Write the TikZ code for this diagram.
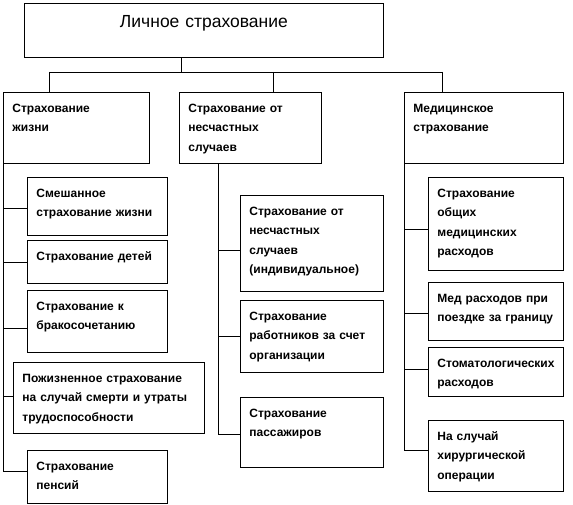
\documentclass[tikz,border=0pt]{standalone}
\usepackage{fontspec}
\setmainfont{Liberation Sans}
\usetikzlibrary{positioning}
\tikzset{
  head/.style={draw,line width=0.8pt,anchor=north west,align=center,inner xsep=9pt,inner ysep=11pt,text width=341pt,text height=13pt,text depth=19pt,font=\fontsize{17.5}{20}\selectfont},
  box/.style={draw,line width=0.8pt,anchor=north west,align=left,inner xsep=9pt,inner ysep=11pt,text height=9pt,font=\fontsize{12}{19.5}\selectfont\bfseries},
  line/.style={draw=black,line width=0.8pt},
}
\begin{document}
\begin{tikzpicture}[x=1pt,y=-1pt]
  \useasboundingbox (0,0) rectangle (573,505);
  \node[head] (top) at (24,3) {Личное страхование};
  \node[box,text width=128pt,text depth=40pt] (life) at (3,92) {Страхование\\жизни};
  \node[box,text width=124pt,text depth=40pt] (acc) at (179,92) {Страхование от\\несчастных\\случаев};
  \node[box,text width=141pt,text depth=40pt] (med) at (404,92) {Медицинское\\страхование};

  \node[box,text width=122pt,text depth=27pt] (mix) at (27,177) {Смешанное\\страхование жизни};
  \node[box,text width=122pt,text depth=12pt] (kids) at (27,240) {Страхование детей};
  \node[box,text width=122pt,text depth=31pt] (wed) at (27,290) {Страхование к\\бракосочетанию};
  \node[box,text width=173pt,text depth=40pt] (whole) at (13,362) {Пожизненное страхование\\на случай смерти и утраты\\трудоспособности};
  \node[box,text width=122pt,text depth=22pt] (pens) at (27,450) {Страхование\\пенсий};

  \node[box,text width=125pt,text depth=65pt] (acc1) at (240,195) {Страхование от\\несчастных\\случаев\\(индивидуальное)};
  \node[box,text width=125pt,text depth=41pt] (acc2) at (240,300) {Страхование\\работников за счет\\организации};
  \node[box,text width=125pt,text depth=39pt] (acc3) at (240,397) {Страхование\\пассажиров};

  \node[box,text width=117pt,text depth=62pt] (med1) at (428,177) {Страхование\\общих\\медицинских\\расходов};
  \node[box,text width=117pt,text depth=27pt] (med2) at (428,282) {Мед расходов при\\поездке за границу};
  \node[box,text width=117pt,text depth=18pt] (med3) at (428,347) {Стоматологических\\расходов};
  \node[box,text width=117pt,text depth=40pt] (med4) at (428,420) {На случай\\хирургической\\операции};

  \coordinate (bus) at (181,72);
  \coordinate (lifeup) at (49,72);
  \coordinate (accup) at (273,72);
  \coordinate (medup) at (442,72);
  \coordinate (accx) at ([xshift=39pt]acc.south west);
  \draw[line] (top.south -| bus) -- (bus);
  \draw[line] (lifeup) -- (medup);
  \foreach \n/\u in {life/lifeup,acc/accup,med/medup} \draw[line] (\u) -- (\u |- \n.north);

  \draw[line] (life.south west) |- ([yshift=6pt]pens.west);
  \foreach \c/\s in {mix/-2,kids/0,wed/-7,whole/2} {
    \coordinate (p) at ([yshift=\s pt]\c.west);
    \draw[line] (life.south west |- p) -- (p);
  }
  \draw[line] (accx) |- ([yshift=-2pt]acc3.west);
  \foreach \c/\s in {acc1/-7,acc2/0} {
    \coordinate (p) at ([yshift=\s pt]\c.west);
    \draw[line] (accx |- p) -- (p);
  }
  \draw[line] (med.south west) |- ([yshift=6pt]med4.west);
  \foreach \c/\s in {med1/-6,med2/-2,med3/3} {
    \coordinate (p) at ([yshift=\s pt]\c.west);
    \draw[line] (med.south west |- p) -- (p);
  }
\end{tikzpicture}
\end{document}
